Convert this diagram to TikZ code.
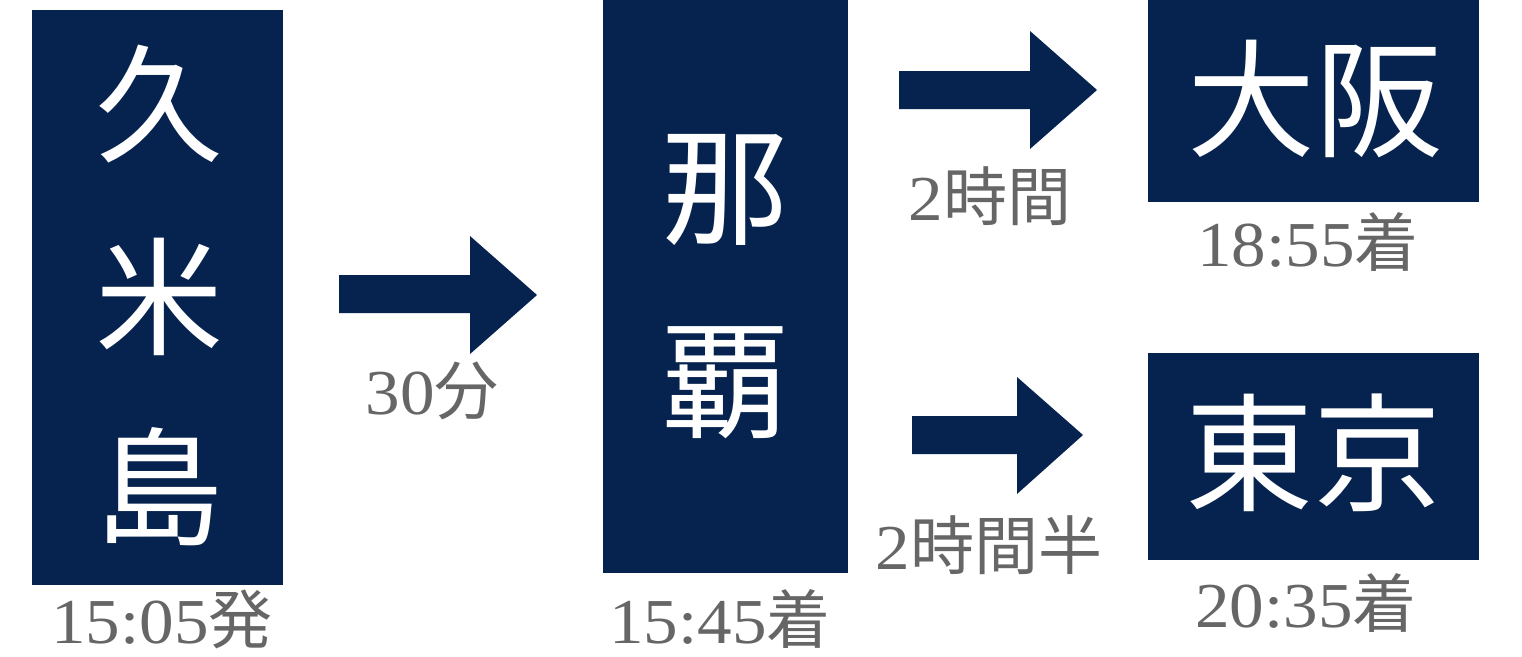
\documentclass[tikz,border=0pt]{standalone}
\usepackage{fontspec}
\newfontfamily\cjk{Noto Sans CJK JP}
\newfontfamily\serifnum[FakeStretch=1.08]{Liberation Serif}
\definecolor{navy}{HTML}{06224F}
\definecolor{labgray}{HTML}{666666}
\begin{document}
\begin{tikzpicture}[x=1pt,y=-1pt,
  box/.style={fill=navy, draw=none, rectangle, inner sep=0pt, outer sep=0pt},
  big/.style={text=white, font=\cjk\fontsize{128}{128}\selectfont, inner sep=0pt},
  lab/.style={text=labgray, font=\fontsize{64}{64}\selectfont, inner sep=0pt},
  blockarrow/.style={fill=navy, draw=none}]
\useasboundingbox (0,0) rectangle (1522,656);
\fill[white] (0,0) rectangle (1522,656);

% boxes
\node[box, minimum width=251pt, minimum height=575pt] (kume) at (157.5,297.5) {};
\node[box, minimum width=245pt, minimum height=573pt] (naha) at (725.5,286.5) {};
\node[box, minimum width=331pt, minimum height=202pt] (osaka) at (1313.5,101) {};
\node[box, minimum width=331pt, minimum height=207pt] (tokyo) at (1313.5,456.5) {};

% box texts
\node[big] (k1) at (159,104) {久};
\node[big] (k2) at (159,297) {米};
\node[big] (k3) at (159,487) {島};
\node[big] (n1) at (725,190) {那};
\node[big] (n2) at (725,383) {覇};
\node[big] (o1) at (1315,99) {大阪};
\node[big] (t1) at (1313,453) {東京};

% time labels
\node[lab] (l1) at (162,619) {{\serifnum 15:05}{\cjk 発}};
\node[lab] (l2) at (720,619) {{\serifnum 15:45}{\cjk 着}};
\node[lab] (l3) at (1308,242) {{\serifnum 18:55}{\cjk 着}};
\node[lab] (l4) at (1306,603) {{\serifnum 20:35}{\cjk 着}};

% duration labels
\node[lab] (d1) at (432,391) {{\serifnum 30}{\cjk 分}};
\node[lab] (d2) at (990,196) {{\serifnum 2}{\cjk 時間}};
\node[lab] (d3) at (989,545) {{\serifnum 2}{\cjk 時間半}};

% block arrows
\fill[blockarrow] (339,275) -- (470,275) -- (470,236) -- (537,295) -- (470,354) -- (470,313) -- (339,313) -- cycle;
\fill[blockarrow] (899,71) -- (1030,71) -- (1030,31) -- (1097,90) -- (1030,149) -- (1030,109) -- (899,109) -- cycle;
\fill[blockarrow] (912,416) -- (1017,416) -- (1017,377) -- (1083,435) -- (1017,494) -- (1017,454) -- (912,454) -- cycle;
\end{tikzpicture}
\end{document}
